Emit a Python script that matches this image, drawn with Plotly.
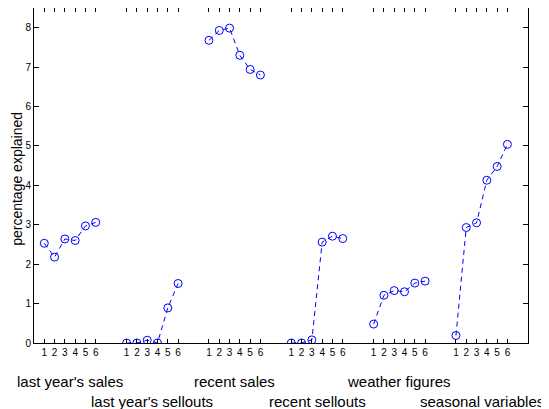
import plotly.graph_objects as go

groups = ["last year's sales", "last year's sellouts", "recent sales",
          "recent sellouts", "weather figures", "seasonal variables"]
steps = [1, 2, 3, 4, 5, 6]
tick_labels = ["1", "2", "3", "4", "5", "6"]

last_year_sales = [2.53, 2.18, 2.64, 2.60, 2.97, 3.06]
last_year_sellouts = [0.0, 0.0, 0.07, 0.0, 0.89, 1.51]
recent_sales = [7.68, 7.93, 7.99, 7.30, 6.94, 6.80]
recent_sellouts = [0.0, 0.0, 0.08, 2.56, 2.71, 2.65]
weather_figures = [0.48, 1.21, 1.33, 1.30, 1.52, 1.57]
seasonal_variables = [0.19, 2.93, 3.05, 4.13, 4.48, 5.04]

series = [last_year_sales, last_year_sellouts, recent_sales,
          recent_sellouts, weather_figures, seasonal_variables]

group_gap = 8
fig = go.Figure()
tickvals, ticktext = [], []
for g, vals in enumerate(series):
    xs = [g * group_gap + s for s in steps]
    tickvals += xs
    ticktext += tick_labels
    fig.add_trace(go.Scatter(
        x=xs, y=vals, mode="lines+markers",
        line=dict(color="#0000FF", width=1, dash="5px,4px"),
        marker=dict(symbol="circle-open", size=8, color="#0000FF",
                    line=dict(width=1, color="#0000FF")),
        showlegend=False, hoverinfo="skip"))

for g, name in enumerate(groups):
    center = g * group_gap + 3.5
    fig.add_annotation(x=center, xref="x", y=0, yref="paper",
                       text=name, showarrow=False,
                       yanchor="middle",
                       yshift=-38 if g % 2 == 0 else -58,
                       font=dict(size=15, color="black"))

fig.add_annotation(x=0, xref="paper", y=0.49, yref="paper",
                   text="percentage explained", textangle=-90,
                   showarrow=False, xanchor="center", yanchor="middle",
                   xshift=-17, font=dict(size=14, color="black"))

font = "Liberation Sans, Arial, sans-serif"
fig.update_layout(
    width=541, height=401,
    margin=dict(l=26, r=21, t=0, b=66),
    paper_bgcolor="white", plot_bgcolor="white",
    font=dict(family=font, color="black", size=10),
    xaxis=dict(range=[0, 48], tickvals=tickvals, ticktext=ticktext,
               ticks="inside", ticklen=4, tickcolor="black", automargin=False,
               showline=True, linecolor="black", linewidth=1, mirror="ticks",
               showgrid=False, zeroline=False, tickfont=dict(size=10)),
    yaxis=dict(range=[0, 8.5], tickvals=list(range(0, 9)),
               ticks="inside", ticklen=5, tickcolor="black", automargin=False,
               showline=True, linecolor="black", linewidth=1, mirror="ticks",
               showgrid=False, zeroline=False, tickfont=dict(size=10)),
)

fig.write_html("out.html")
